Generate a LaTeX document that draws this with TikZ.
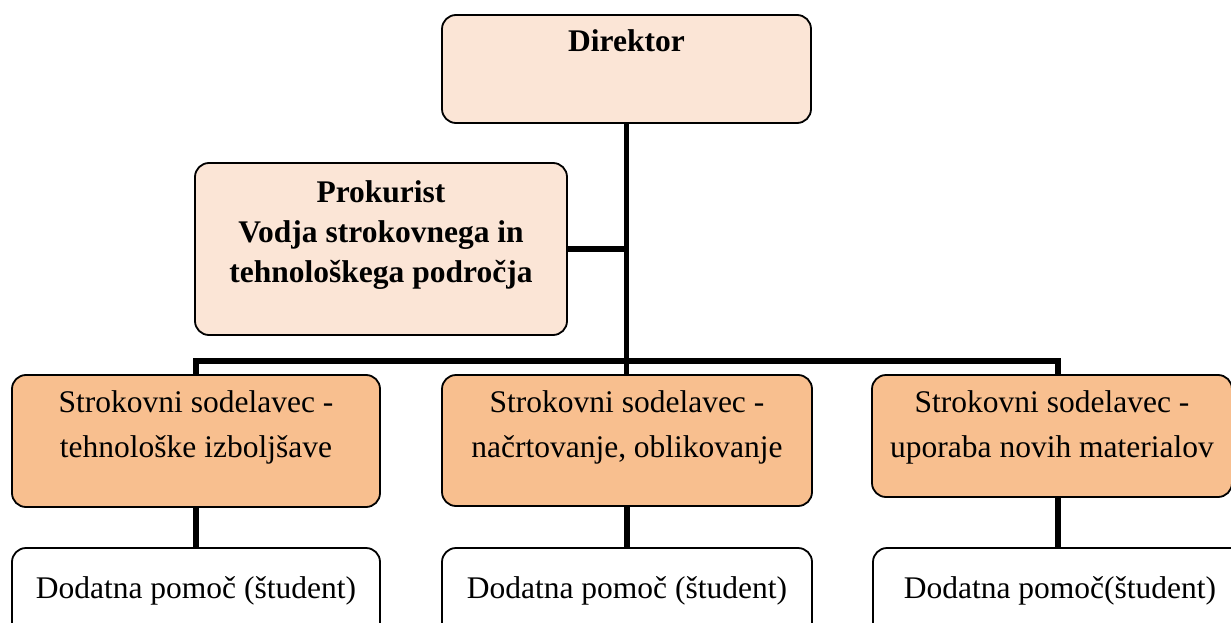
\documentclass[tikz,border=0pt]{standalone}
\usepackage{fontspec}
\setmainfont{Liberation Serif}
\definecolor{peach}{HTML}{FBE5D6}
\definecolor{apricot}{HTML}{F8BF8F}
% box contents: height, width, first-baseline offset, line spacing, text
\newcommand\boxtext[5]{\parbox[c][#1][t]{#2}{\fontsize{31.5pt}{#4}\selectfont\centering\rule{0pt}{#3}#5\par}}
\tikzset{
  box/.style={draw=black, line width=1.8pt, rounded corners=14pt, inner sep=0pt, outer sep=0pt, anchor=north west},
  lead/.style={box, fill=peach},
  staff/.style={box, fill=apricot},
  helper/.style={box, fill=white},
  conn/.style={line width=5.2pt, draw=black}
}
\begin{document}
\begin{tikzpicture}[x=1pt, y=-1pt]
\useasboundingbox (0,0) rectangle (1231,623);

% management
\node[lead] (dir) at (442,15) {\boxtext{108pt}{369pt}{37pt}{45pt}{\bfseries Direktor}};
\node[lead] (pro) at (195,163) {\boxtext{172pt}{372pt}{39pt}{40pt}{\bfseries Prokurist\\ Vodja strokovnega in\\ tehnološkega področja}};

% specialists
\node[staff] (s1) at (12,375) {\boxtext{132pt}{368pt}{37pt}{45pt}{Strokovni sodelavec -\\ tehnološke izboljšave}};
\node[staff] (s2) at (442,375) {\boxtext{131pt}{370pt}{37pt}{45pt}{Strokovni sodelavec -\\ načrtovanje, oblikovanje}};
\node[staff] (s3) at (872,375) {\boxtext{122pt}{360pt}{37pt}{45pt}{Strokovni sodelavec -\\ uporaba novih materialov}};

% assistants
\node[helper] (d1) at (12,548) {\boxtext{92pt}{368pt}{50pt}{45pt}{Dodatna pomoč (študent)}};
\node[helper] (d2) at (442,548) {\boxtext{92pt}{370pt}{50pt}{45pt}{Dodatna pomoč (študent)}};
\node[helper] (d3) at (873,548) {\boxtext{92pt}{374pt}{50pt}{45pt}{Dodatna pomoč(študent)}};

% connectors
\coordinate (busL) at (s1.north |- 0,361);
\coordinate (busR) at (1058,361);
\draw[conn] (dir.south) -- (dir.south |- s2.north);
\draw[conn] (pro.east) -- (pro.east -| dir.south);
\draw[conn] (s1.north) -- (busL) -- (busR) -- (busR |- s3.north);
\draw[conn] (s1.south) -- (d1.north);
\draw[conn] (s2.south) -- (d2.north);
\draw[conn] (busR |- s3.south) -- (busR |- d3.north);
\end{tikzpicture}
\end{document}
